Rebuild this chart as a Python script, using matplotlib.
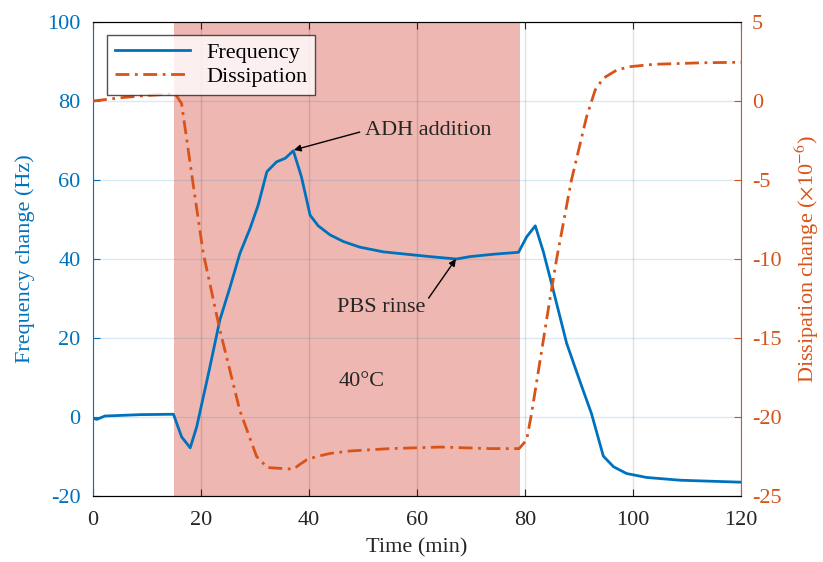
import matplotlib.pyplot as plt

# serif font, close to the original
plt.rcParams['font.family'] = ['Liberation Serif', 'DejaVu Serif']
plt.rcParams['mathtext.fontset'] = 'stix'
plt.rcParams['axes.unicode_minus'] = False

# frequency change (Hz) vs time (min)
freq_time = [0, 0.7, 2.2, 8.7, 14.9, 16.4, 18, 19.2, 21.4, 23.5, 25.4, 27.2, 29.1,
             30.6, 32.2, 34, 35.6, 37.1, 38.6, 40.2, 41.7, 43.9, 46.4, 49.4, 53.8,
             58.1, 62.4, 67.3, 69.8, 74.1, 78.8, 80.3, 81.9, 83.4, 84.9, 87.7, 90.2,
             92.3, 94.5, 96.4, 98.8, 102.5, 108.7, 120]
freq = [-0.3, -0.6, 0.25, 0.6, 0.7, -5.0, -7.8, -2.5, 11.1, 24.6, 33.0, 41.4, 47.8,
        53.7, 62.1, 64.6, 65.5, 67.4, 60.8, 51.1, 48.4, 46.1, 44.4, 43.0, 41.8,
        41.2, 40.6, 40.0, 40.6, 41.2, 41.7, 45.6, 48.4, 41.8, 33.9, 18.7, 8.9,
        0.9, -9.9, -12.6, -14.3, -15.3, -16.0, -16.5]

# dissipation change (x1e-6) vs time (min)
diss_time = [0, 5, 10, 15.2, 16.4, 18.6, 20.4, 23.5, 27.2, 30.3, 32.3, 37.1, 38.3,
             39.6, 41.4, 44, 47.6, 55, 64.3, 73.5, 78.9, 80.3, 81.2, 82.8, 84.3,
             85.9, 88.6, 91.4, 93, 94.5, 97, 99.4, 103.8, 113, 120]
diss = [0.0, 0.2, 0.35, 0.45, -0.15, -5.4, -9.6, -14.5, -19.6, -22.5, -23.2, -23.3,
        -23.0, -22.7, -22.5, -22.3, -22.15, -22.0, -21.9, -22.0, -22.0, -21.45,
        -19.8, -16.4, -13.2, -9.9, -5.0, -1.0, 0.7, 1.44, 1.96, 2.17, 2.32, 2.42,
        2.45]

# heated period
heat_start = 15
heat_end = 79

blue = '#0072BD'
orange = '#D95319'
dark = '#262626'
fs = 16

fig = plt.figure(figsize=(8.23, 5.62), dpi=100)
ax1 = fig.add_axes([0.113, 0.1174, 0.7874, 0.8435])
ax2 = ax1.twinx()

# shaded region
ax1.axvspan(heat_start, heat_end, facecolor=(0.85, 0.33, 0.27), alpha=0.42,
            lw=0, zorder=1)

# lines
l1, = ax1.plot(freq_time, freq, color=blue, lw=2, zorder=3)
l2, = ax2.plot(diss_time, diss, color=orange, lw=2, dashes=(5, 2, 1, 2))

# limits and ticks
ax1.set_xlim(0, 120)
ax1.set_ylim(-20, 100)
ax2.set_ylim(-25, 5)
ax1.set_xticks(range(0, 121, 20))
ax1.set_yticks(range(-20, 101, 20))
ax2.set_yticks(range(-25, 6, 5))

# grid
ax1.xaxis.grid(True, color='black', alpha=0.12, lw=1)
ax1.yaxis.grid(True, color=blue, alpha=0.15, lw=1)

# spines and tick colours
ax1.spines['left'].set_color(blue)
ax1.spines['right'].set_visible(False)
ax2.spines['left'].set_visible(False)
ax2.spines['right'].set_color(orange)
ax1.tick_params(axis='y', colors=blue, direction='in', length=5, labelsize=fs,
                pad=9)
ax2.tick_params(axis='y', colors=orange, direction='in', length=5, labelsize=fs,
                pad=8)
ax1.tick_params(axis='x', colors=dark, direction='in', length=5, top=True,
                labelsize=fs, pad=11)
for s in ['top', 'bottom']:
    ax1.spines[s].set_color(dark)

# labels
ax1.set_xlabel('Time (min)', fontsize=fs, color=dark, labelpad=6)
ax1.set_ylabel('Frequency change (Hz)', fontsize=fs, color=blue, labelpad=9)
ax2.set_ylabel(r'Dissipation change ($\times$10$^{-6}$)', fontsize=fs,
               color=orange, labelpad=8)

# annotations
ax1.annotate('ADH addition', xy=(37.2, 67.6), xytext=(50.4, 72.5), fontsize=fs,
             color=dark, ha='left', va='center',
             arrowprops=dict(arrowstyle='-|>', color='black', lw=1,
                             mutation_scale=10, relpos=(0, 0.5), shrinkA=2,
                             shrinkB=0))
ax1.annotate('PBS rinse', xy=(67.2, 40.0), xytext=(53.3, 27.6), fontsize=fs,
             color=dark, ha='center', va='center',
             arrowprops=dict(arrowstyle='-|>', color='black', lw=1,
                             mutation_scale=10, relpos=(1, 0.75), shrinkA=1,
                             shrinkB=0))
ax1.text(49.8, 9, '40°C', fontsize=fs, color=dark, ha='center', va='center')

# legend
leg = ax2.legend([l1, l2], ['Frequency', 'Dissipation'], loc='upper left',
                 bbox_to_anchor=(0.0216, 0.973), borderaxespad=0, fontsize=fs,
                 fancybox=False, edgecolor=dark, framealpha=0.8,
                 handlelength=3.4, borderpad=0.35, labelspacing=0.15,
                 handletextpad=0.7)
leg.get_frame().set_linewidth(1)

fig.savefig('out.png', dpi=100)
